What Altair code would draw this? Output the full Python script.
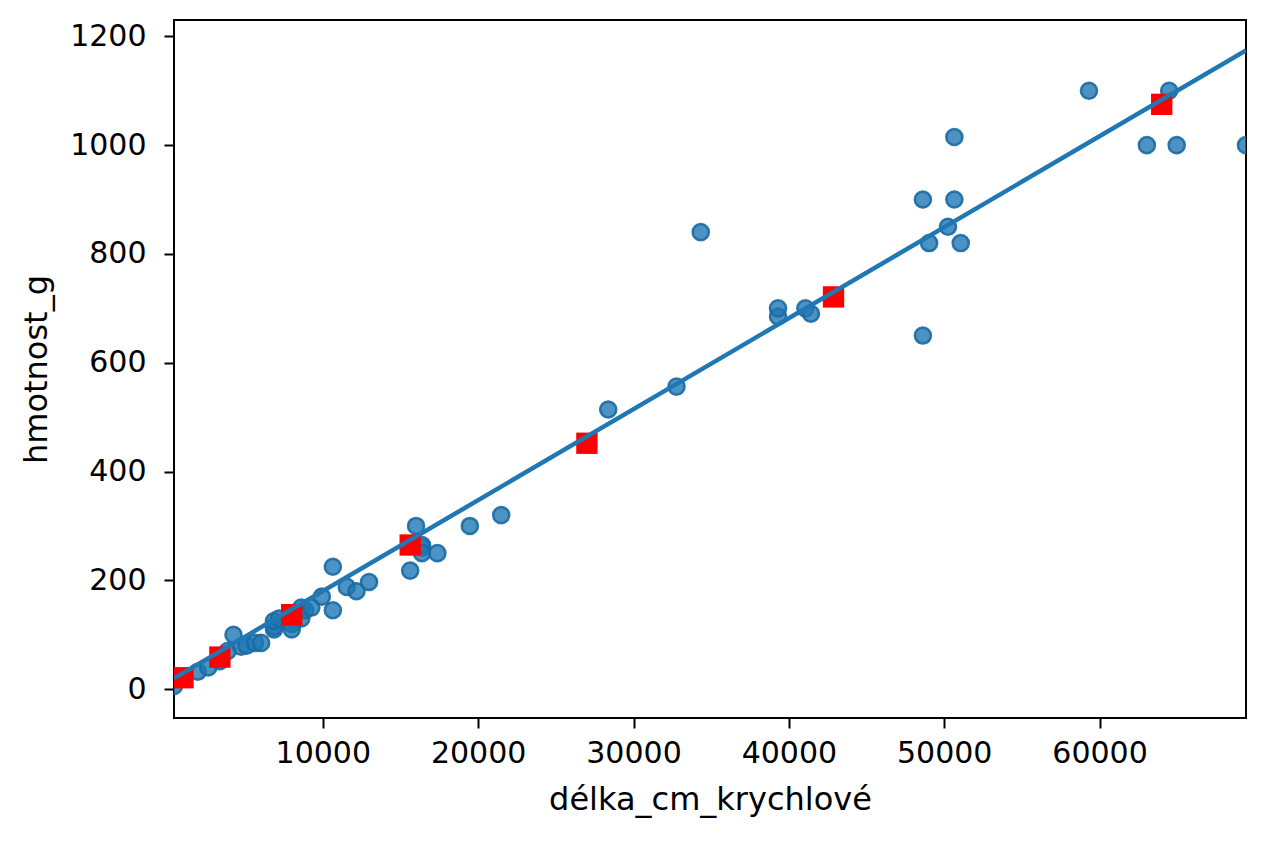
import altair as alt
import pandas as pd

# Perch: length (cm) cubed vs weight (g)
delka_cm_krychlove = [
    421.9, 1953.1, 2628.1, 3375.0, 3869.9, 4251.5, 4741.6, 5088.4, 5639.8, 6028.6,
    6859.0, 6859.0, 6859.0, 7189.1, 8000.0, 8000.0, 8000.0, 8000.0, 8000.0, 8615.1,
    8615.1, 8869.7, 9261.0, 9938.4, 10648.0, 10648.0, 11543.2, 12167.0, 12977.9, 15625.0,
    16003.0, 16387.1, 16387.1, 16387.1, 17374.0, 19465.1, 21485.0, 28372.6, 32768.0, 34328.1,
    39304.0, 39304.0, 41063.6, 41421.7, 48627.1, 48627.1, 49027.9, 50243.4, 50653.0, 50653.0,
    51064.8, 59319.0, 63044.8, 64481.2, 64964.8, 69426.5,
]
hmotnost_g = [
    5.9, 32, 40, 51.5, 70, 100, 78, 80, 85, 85,
    110, 115, 125, 130, 120, 120, 130, 135, 110, 130,
    150, 145, 150, 170, 225, 145, 188, 180, 197, 218,
    300, 260, 265, 250, 250, 300, 320, 514, 556, 840,
    685, 700, 700, 690, 900, 650, 820, 850, 900, 1015,
    820, 1100, 1000, 1100, 1000, 1000,
]

# predicted weights for new lengths (red squares)
nove_delky = [1000, 3375, 8000, 15625, 27000, 42875, 64000]
predikce = [21, 59, 137, 265, 452, 721, 1075]

# fitted line, read at both ends of the x axis
primka_x = [421.9, 69426.5]
primka_y = [20, 1174]

X_DOMAIN = [421.9, 69426.5]
Y_DOMAIN = [-53, 1230]
BLUE = '#1f77b4'
FONT = 'DejaVu Sans'

ryby = pd.DataFrame({'x': delka_cm_krychlove, 'y': hmotnost_g})
nove = pd.DataFrame({'x': nove_delky, 'y': predikce})
fit = pd.DataFrame({'x': primka_x, 'y': primka_y})

x = alt.X('x:Q', title='délka_cm_krychlové',
          scale=alt.Scale(domain=X_DOMAIN, nice=False, zero=False),
          axis=alt.Axis(values=[10000, 20000, 30000, 40000, 50000, 60000], format='d'))
y = alt.Y('y:Q', title='hmotnost_g',
          scale=alt.Scale(domain=Y_DOMAIN, nice=False, zero=False),
          axis=alt.Axis(values=[0, 200, 400, 600, 800, 1000, 1200], format='d'))

body = alt.Chart(ryby).mark_point(
  shape='circle', filled=True, size=260, fill=BLUE, fillOpacity=0.8,
  stroke='#1a6aa3', strokeWidth=2.5, strokeOpacity=0.9, clip=True
).encode(x=x, y=y)

ctverce = alt.Chart(nove).mark_point(
  shape='square', filled=True, size=455, color='red', opacity=1, clip=True
).encode(x=x, y=y)

primka = alt.Chart(fit).mark_line(
  color=BLUE, strokeWidth=4.5, clip=True
).encode(x=x, y=y)

chart = alt.layer(body, ctverce, primka).properties(
  width=1072, height=698,
  autosize=alt.AutoSizeParams(type='none'),
  padding={'left': 166, 'top': 12, 'right': 10, 'bottom': 100},
  background='white'
).configure_view(
  stroke='black', strokeWidth=2
).configure_axis(
  grid=False, domain=False,
  tickColor='black', tickSize=10, tickWidth=2,
  labelFont=FONT, labelFontSize=30, labelColor='black',
  titleFont=FONT, titleFontSize=32, titleColor='black', titleFontWeight='normal'
).configure_axisX(
  labelPadding=10, titlePadding=16
).configure_axisY(
  labelPadding=18, titlePadding=16
)

chart.save('out.html', embed_options={'renderer': 'svg', 'actions': False})
